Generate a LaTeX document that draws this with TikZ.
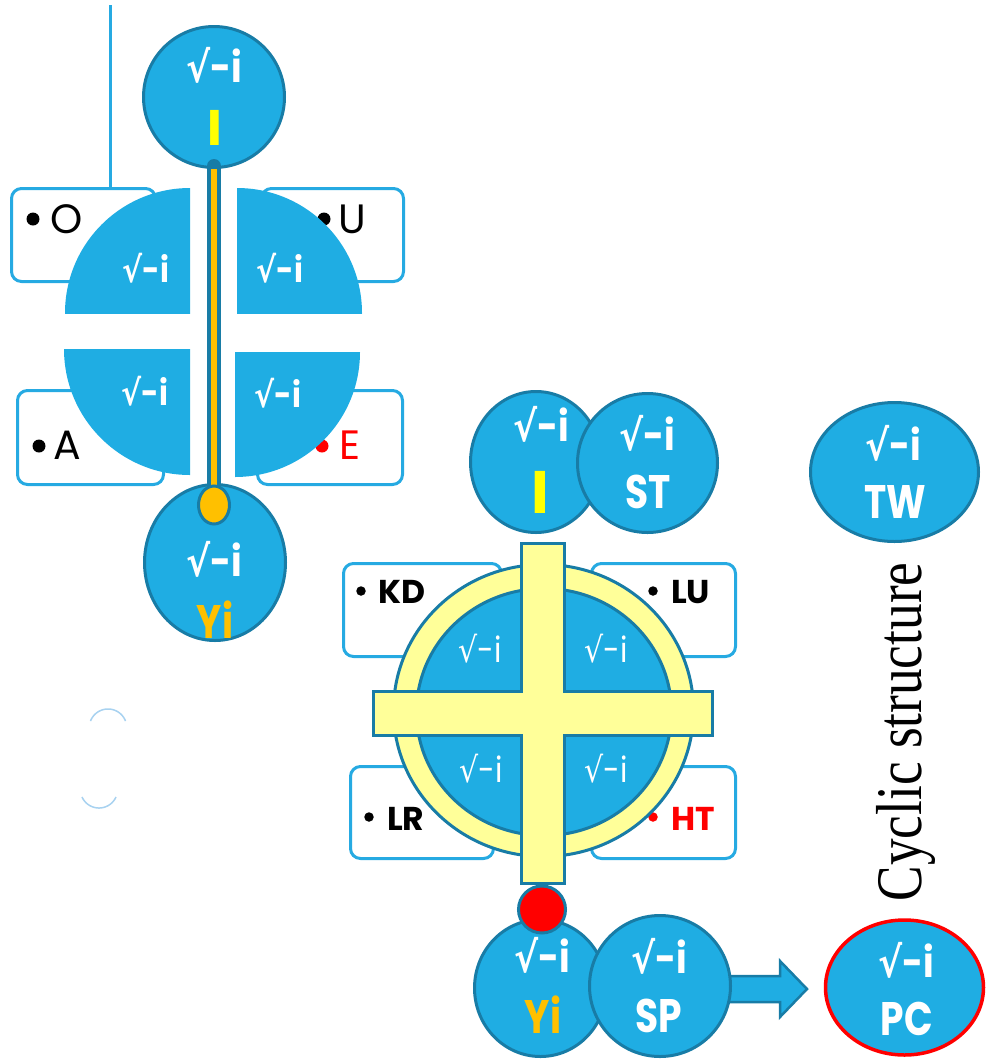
\documentclass[tikz,border=0pt]{standalone}
\usepackage{fontspec}
\usetikzlibrary{shapes.geometric,calc}
\newfontfamily\pop{Poppins}
\newfontfamily\djv{DejaVu Sans}
\newfontfamily\tms{Liberation Serif}
\definecolor{bfill}{RGB}{31,173,227}
\definecolor{bdark}{RGB}{24,124,166}
\definecolor{bbox}{RGB}{38,170,226}
\definecolor{orng}{RGB}{255,192,0}
\definecolor{ylw}{RGB}{255,255,0}
\definecolor{lylw}{RGB}{255,255,153}
\definecolor{lgtb}{RGB}{168,210,240}
\definecolor{rd}{RGB}{255,0,0}
\newcommand\rti{{\djv √}-i}
\newcommand\nrw[1]{\scalebox{0.86}[1]{#1}}
\newcommand\nrx[1]{\scalebox{0.8}[1]{#1}}
\tikzset{
  bub/.style={ellipse, draw=bdark, line width=3pt, fill=bfill, inner sep=0pt},
  lbox/.style={rounded corners=10pt, draw=bbox, line width=3pt, fill=white, inner sep=0pt},
  wlab/.style={text=white, font=\pop\bfseries\fontsize{42}{42}\selectfont, inner sep=0pt, anchor=base},
  wbig/.style={text=white, font=\pop\bfseries\fontsize{47}{47}\selectfont, inner sep=0pt, anchor=base},
  wsml/.style={text=white, font=\pop\bfseries\fontsize{35}{35}\selectfont, inner sep=0pt, anchor=base},
  wreg/.style={text=white, font=\pop\fontsize{35}{35}\selectfont, inner sep=0pt, anchor=base},
  ltr/.style={font=\pop\fontsize{41}{41}\selectfont, inner sep=0pt, anchor=base west},
  bltr/.style={font=\pop\bfseries\fontsize{33}{33}\selectfont, inner sep=0pt, anchor=base west},
  bdot/.style={circle, fill=black, inner sep=0pt, minimum size=13pt},
  sdot/.style={circle, fill=black, inner sep=0pt, minimum size=9.5pt},
  quart/.style={fill=bfill},
  yfill/.style={fill=lylw, draw=bdark, line width=3pt},
}
\begin{document}
\begin{tikzpicture}[x=1pt,y=-1pt]
\useasboundingbox (0,0) rectangle (986,1061);

% ---------------- top-left figure ----------------
\node[lbox, minimum width=144pt, minimum height=93pt] (bO) at (83.5,235) {};
\node[lbox, minimum width=142pt, minimum height=93pt] (bU) at (332.5,235) {};
\node[lbox, minimum width=146pt, minimum height=94pt] (bA) at (90.5,437.5) {};
\node[lbox, minimum width=145pt, minimum height=94pt] (bE) at (330,437.5) {};
\coordinate (vtop) at (110,5);
\draw[bbox, line width=3pt] (vtop) -- (vtop |- bO.north);

\node[bdot] (dO) at (33,219) {};
\node[ltr] (tO) at (50,233) {O};
\node[bdot] (dU) at (324,219) {};
\node[ltr] (tU) at (338,233) {U};
\node[bdot] (dA) at (39,446) {};
\node[ltr] (tA) at (53,459) {A};
\node[bdot, fill=rd] (dE) at (322,446) {};
\node[ltr, text=rd] (tE) at (339,459) {E};

\begin{scope}
  \clip (60,180) rectangle (190,313);
  \fill[quart] (190,313) circle (125pt);
\end{scope}
\begin{scope}
  \clip (237,180) rectangle (370,313);
  \fill[quart] (237,313) circle (125pt);
\end{scope}
\begin{scope}
  \clip (60,349) rectangle (190,480);
  \fill[quart] (190,349) circle (126pt);
\end{scope}
\begin{scope}
  \clip (235,352) rectangle (370,480);
  \fill[quart] (235,352) circle (125pt);
\end{scope}
\node[wsml] (q1) at (146,282) {\nrw{\rti}};
\node[wsml] (q2) at (280,282) {\nrw{\rti}};
\node[wsml] (q3) at (145,405) {\nrw{\rti}};
\node[wsml] (q4) at (278,407) {\nrw{\rti}};

\node[bub, minimum width=141pt, minimum height=141pt] (topc) at (214,97) {};
\node[wlab] (topt) at (214.5,82) {\nrw{\rti}};
\node[wlab, text=ylw, font=\pop\bfseries\fontsize{50}{50}\selectfont] (topi) at (214.5,145) {I};

\node[bub, minimum width=141pt, minimum height=156pt] (botc) at (215,562.5) {};
\coordinate (ovc) at (214,505);
\draw[bdark, line width=14pt, line cap=round] ($(ovc |- topc.south)+(0,-3)$) -- (ovc);
\draw[orng, line width=6.5pt] (ovc |- topc.south) -- (ovc);
\node[ellipse, fill=orng, draw=bdark, line width=3pt, inner sep=0pt, minimum width=31pt, minimum height=38pt] (oval) at (ovc) {};
\node[wlab] (bott) at (214,576) {\nrw{\rti}};
\node[wbig, text=orng] (boty) at (215,638) {\nrx{Yi}};

% small arcs
\draw[lgtb, line width=1.5pt] plot[domain=21:159, samples=40] ({108+18.75*cos(\x)}, {727.75-18.75*sin(\x)});
\draw[lgtb, line width=1.5pt] plot[domain=24:156, samples=40] ({99+18.6*cos(\x)}, {789.4+18.6*sin(\x)});

% ---------------- middle figure ----------------
\node[lbox, minimum width=158pt, minimum height=93pt] (bKD) at (422.5,610) {};
\node[lbox, minimum width=144pt, minimum height=93pt] (bLU) at (663.5,610) {};
\node[lbox, minimum width=143pt, minimum height=92pt] (bLR) at (422,812.5) {};
\node[lbox, minimum width=144pt, minimum height=92pt] (bHT) at (663.5,812.5) {};
\node[sdot] (dKD) at (361,591) {};
\node[bltr] (tKD) at (378,603) {KD};
\node[sdot] (dLU) at (653,591) {};
\node[bltr] (tLU) at (671,603) {LU};
\node[sdot] (dLR) at (369,817) {};
\node[bltr] (tLR) at (387,830) {LR};
\node[sdot, fill=rd] (dHT) at (653,817) {};
\node[bltr, text=rd] (tHT) at (671,830) {HT};

\node[ellipse, yfill, inner sep=0pt, minimum width=300pt, minimum height=292pt] (ring) at (543.5,710.5) {};
\node[bub, minimum width=255pt, minimum height=247pt] (inner) at (544,712) {};
\node[wreg] (m1) at (480,662) {\nrw{\rti}};
\node[wreg] (m2) at (606,662) {\nrw{\rti}};
\node[wreg] (m3) at (481,782) {\nrw{\rti}};
\node[wreg] (m4) at (606,782) {\nrw{\rti}};
\draw[yfill] (521.5,543.5) -- (564.5,543.5) -- (564.5,691.5) -- (712.5,691.5) -- (712.5,735.5) -- (564.5,735.5) -- (564.5,883.5) -- (521.5,883.5) -- (521.5,735.5) -- (373.5,735.5) -- (373.5,691.5) -- (521.5,691.5) -- cycle;

\node[bub, minimum width=131pt, minimum height=141pt] (mI) at (536,462) {};
\node[wlab] (mIt) at (541,441) {\nrw{\rti}};
\node[wlab, text=ylw, font=\pop\bfseries\fontsize{60}{60}\selectfont] (mIi) at (540,513) {I};
\node[bub, minimum width=140pt, minimum height=139pt] (ST) at (647.5,463) {};
\node[wlab] (STa) at (647,450) {\nrw{\rti}};
\node[wbig] (STb) at (648,508) {\nrx{ST}};

\coordinate (arS) at (720,976);
\coordinate (arT) at (807,989);
\draw[fill=bfill, draw=bdark, line width=2.5pt] (arS) -- (780,976) -- (780,961) -- (arT) -- (780,1017) -- (780,1002) -- (720,1002) -- cycle;

\node[bub, minimum width=132pt, minimum height=137pt] (mY) at (540.5,988) {};
\node[wlab] (mYa) at (542,972) {\nrw{\rti}};
\node[wbig, text=orng] (mYb) at (543,1033) {\nrx{Yi}};
\node[bub, minimum width=141pt, minimum height=141pt] (SP) at (660,986) {};
\node[wlab] (SPa) at (659,973) {\nrw{\rti}};
\node[wbig] (SPb) at (659,1032) {\nrx{SP}};
\node[circle, fill=rd, draw=bdark, line width=3pt, inner sep=0pt, minimum size=47pt] (red) at (542,909.5) {};

% ---------------- right side ----------------
\node[bub, minimum width=168pt, minimum height=139pt] (TW) at (894.5,472) {};
\node[wlab] (TWa) at (893,460) {\nrw{\rti}};
\node[wbig] (TWb) at (895,518) {\nrx{TW}};
\node[bub, draw=rd, line width=3.5pt, minimum width=158pt, minimum height=135pt] (PC) at (904.5,987.5) {};
\node[wlab] (PCa) at (906,977) {\nrw{\rti}};
\node[wbig] (PCb) at (907,1035) {\nrx{PC}};

\node[rotate=90, inner sep=0pt, font=\tms\fontsize{65}{65}\selectfont] (cyc) at (906,732) {\scalebox{0.82}[1]{Cyclic structure}};
\end{tikzpicture}
\end{document}
